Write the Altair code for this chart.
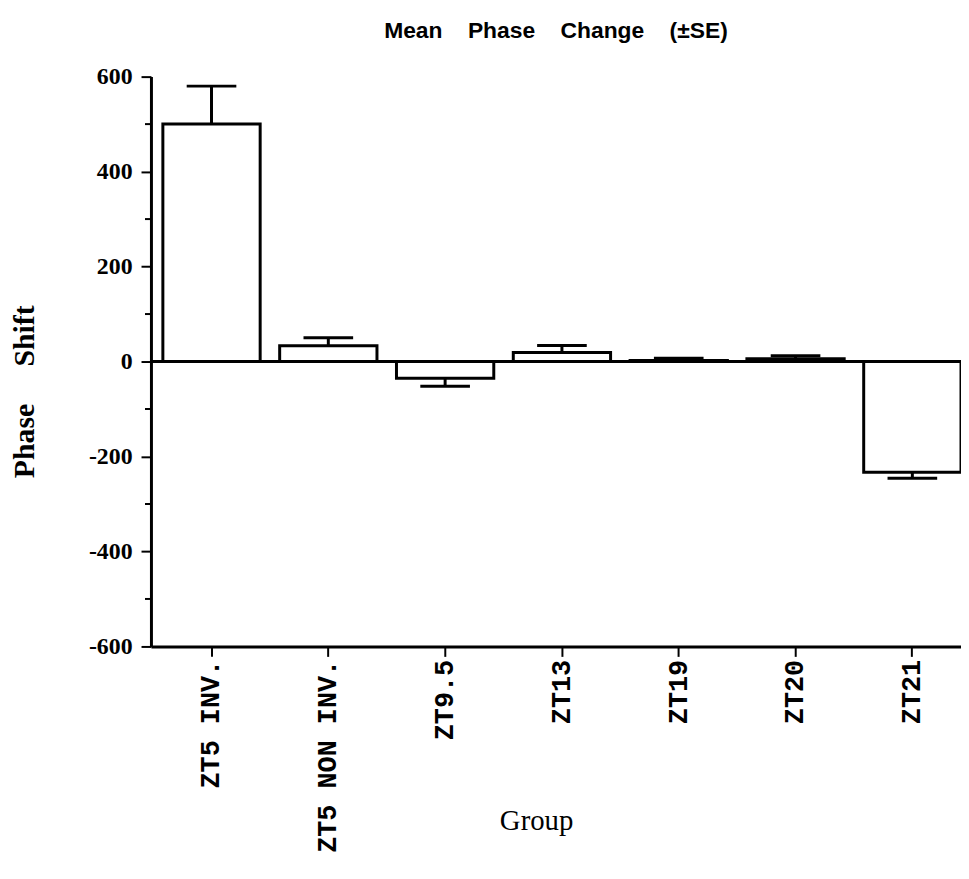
import altair as alt
import pandas as pd

groups = ["ZT5 INV.", "ZT5 NON INV.", "ZT9.5", "ZT13", "ZT19", "ZT20", "ZT21"]
means = [500, 33, -35, 19, 2, 6, -233]
ses = [80, 17, 17, 15, 5, 6, 13]
major_ticks = [-600, -400, -200, 0, 200, 400, 600]
minor_ticks = [-500, -300, -100, 100, 300, 500]

NB = "\u00a0"

df = pd.DataFrame({"group": groups, "mean": means, "se": ses})
df["err_end"] = [m + s if m >= 0 else m - s for m, s in zip(means, ses)]
minor_df = pd.DataFrame({"v": minor_ticks})

x_enc = alt.X(
    "group:N",
    sort=groups,
    scale=alt.Scale(paddingInner=0.167, paddingOuter=0.051, align=1),
    axis=alt.Axis(
        title="Group",
        labelAngle=270,
        labelFont="Liberation Mono",
        labelFontWeight="bold",
        labelFontSize=27,
        labelColor="black",
        labelPadding=3,
        labelLimit=0,
        tickSize=10,
        tickWidth=2,
        tickColor="black",
        domainColor="black",
        domainWidth=3,
        grid=False,
        titleFont="Liberation Serif",
        titleFontSize=29,
        titleFontWeight="normal",
        titleColor="black",
        titleX=388,
        titleY=184,
        titleAlign="center",
        titleBaseline="alphabetic",
    ),
)

y_scale = alt.Scale(domain=[-600, 600], nice=False)

y_axis = alt.Axis(
    title="Phase" + NB * 5 + "Shift",
    values=major_ticks,
    labelExpr="'' + datum.value",
    labelFont="Liberation Serif",
    labelFontWeight="bold",
    labelFontSize=24,
    labelColor="black",
    labelPadding=9,
    tickSize=10,
    tickWidth=2,
    tickColor="black",
    domainColor="black",
    domainWidth=3,
    grid=False,
    titleFont="Liberation Serif",
    titleFontWeight="bold",
    titleFontSize=30,
    titleColor="black",
    titleAngle=270,
    titleX=-127,
    titleY=317,
    titleAlign="center",
    titleBaseline="middle",
)

base = alt.Chart(df)

bars = base.mark_bar(fill="white", stroke="black", strokeWidth=3).encode(
    x=x_enc,
    y=alt.Y("mean:Q", scale=y_scale, axis=y_axis),
)

err = base.mark_rule(color="black", strokeWidth=3).encode(
    x=alt.X("group:N", sort=groups),
    y="mean:Q",
    y2="err_end:Q",
)

caps = base.mark_tick(color="black", thickness=3, size=50, opacity=1).encode(
    x=alt.X("group:N", sort=groups),
    y="err_end:Q",
)

zero = alt.Chart(pd.DataFrame({"z": [0]})).mark_rule(color="black", strokeWidth=3).encode(
    y="z:Q"
)

minor = alt.Chart(minor_df).mark_rule(color="black", strokeWidth=2).encode(
    y="v:Q",
    x=alt.value(-6),
    x2=alt.value(0),
)

chart = (
    alt.layer(bars, err, caps, zero, minor)
    .properties(
        width=816,
        height=574,
        background="white",
        autosize=alt.AutoSizeParams(type="none"),
        padding={"left": 144, "top": 66, "right": 0, "bottom": 212},
        title=alt.TitleParams(
            "Mean" + NB * 4 + "Phase" + NB * 4 + "Change" + NB * 4 + "(±SE)",
            font="Liberation Sans",
            fontSize=23,
            fontWeight="bold",
            color="black",
            anchor="middle",
            offset=22,
        ),
    )
    .configure_axis(grid=False)
    .configure_view(stroke="transparent", strokeWidth=0)
)

chart.save("out.html", embed_options={"renderer": "svg", "actions": False})
